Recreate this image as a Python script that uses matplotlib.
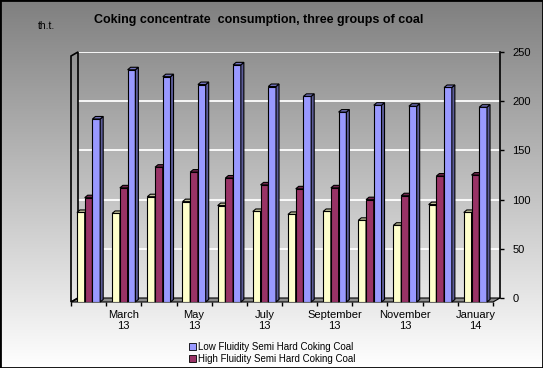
import numpy as np
import matplotlib
matplotlib.use("Agg")
import matplotlib.pyplot as plt
from matplotlib.patches import Polygon, Patch

plt.rcParams['font.family'] = ['Liberation Sans', 'DejaVu Sans']

months = ['February\n13', 'March\n13', 'April\n13', 'May\n13', 'June\n13', 'July\n13',
          'August\n13', 'September\n13', 'October\n13', 'November\n13', 'December\n13', 'January\n14']
hard = [91, 90, 107, 102, 98, 92, 89, 92, 83, 78, 99, 91]
high_fluid = [106, 116, 137, 132, 126, 119, 115, 116, 104, 108, 128, 129]
low_fluid = [186, 236, 229, 221, 241, 219, 209, 193, 200, 199, 218, 198]

W, H = 543, 368
fig = plt.figure(figsize=(W / 100, H / 100), dpi=100)

# background gradient
bg = fig.add_axes([0, 0, 1, 1], zorder=-10)
grad = np.linspace(0.5, 1.0, 256).reshape(-1, 1)
bg.imshow(np.dstack([grad, grad, grad]), aspect='auto', extent=[0, 1, 0, 1])
bg.set_axis_off()
bg.add_patch(plt.Rectangle((0, 0), 1, 1, transform=bg.transAxes, fill=False,
                           edgecolor='black', lw=2, clip_on=False))

def px_axes(left, right, y0, y250, **kw):
    return fig.add_axes([left / W, 1 - y0 / H, (right - left) / W, (y0 - y250) / H], **kw)

n = len(months)
x = np.arange(n)
px_x = 422 / n          # pixels per group
px_y = 246 / 250        # pixels per unit

# back wall: gridlines and value axis
axb = px_axes(78, 500, 298, 52, zorder=1)
axb.patch.set_alpha(0)
axb.set_xlim(-0.5, n - 0.5)
axb.set_ylim(0, 250)
axb.set_yticks(range(0, 251, 50))
for v in range(50, 251, 50):
    axb.axhline(v, color='white', lw=1.3)
axb.set_xticks([])
for s in ['top', 'left', 'bottom']:
    axb.spines[s].set_visible(False)
axb.spines['right'].set_linewidth(1.2)
axb.yaxis.tick_right()
axb.tick_params(axis='y', direction='out', length=3, width=1, labelsize=8, pad=6)

# front plane: bars, floor, category axis
ax = px_axes(71, 493, 302, 56, zorder=2)
ax.patch.set_alpha(0)
ax.set_xlim(-0.5, n - 0.5)
ax.set_ylim(0, 250)

dx_wall, dy_wall = 7 / px_x, 4 / px_y
floor = Polygon([(-0.5, 0), (n - 0.5, 0), (n - 0.5 + dx_wall, dy_wall), (-0.5 + dx_wall, dy_wall)],
                closed=True, facecolor='#8a8a8a', edgecolor='black', lw=0.8, clip_on=False, zorder=1)
ax.add_patch(floor)
wall = Polygon([(-0.5, 0), (-0.5, 250), (-0.5 + dx_wall, 250 + dy_wall), (-0.5 + dx_wall, dy_wall)],
               closed=True, facecolor='none', edgecolor='black', lw=1.2, clip_on=False, zorder=1)
ax.add_patch(wall)

series = [(hard, '#FFFFCC'), (high_fluid, '#993366'), (low_fluid, '#9999FF')]
bw = 0.22
ddx, ddy = 3 / px_x, 2.5 / px_y

def shade(c, f):
    r, g, b = matplotlib.colors.to_rgb(c)
    return (r * f, g * f, b * f)

for j, (vals, col) in enumerate(series):
    xs = x + (j - 1) * bw
    ax.bar(xs, vals, bw, color=col, edgecolor='black', lw=0.8, zorder=3 + j)
    for xc, v in zip(xs, vals):
        xl, xr = xc - bw / 2, xc + bw / 2
        side = Polygon([(xr, 0), (xr, v), (xr + ddx, v + ddy), (xr + ddx, ddy)],
                       closed=True, facecolor=shade(col, 0.6), edgecolor='black', lw=0.8,
                       zorder=3 + j, clip_on=False)
        top = Polygon([(xl, v), (xr, v), (xr + ddx, v + ddy), (xl + ddx, v + ddy)],
                      closed=True, facecolor=shade(col, 0.75), edgecolor='black', lw=0.8,
                      zorder=3 + j, clip_on=False)
        ax.add_patch(side)
        ax.add_patch(top)

for s in ['top', 'left', 'right']:
    ax.spines[s].set_visible(False)
ax.spines['bottom'].set_visible(False)
ax.set_yticks([])
ax.set_xticks(np.arange(-0.5, n, 1), minor=True)
ax.set_xticks(x[1::2])
ax.set_xticklabels(months[1::2], fontsize=8, linespacing=1.1)
ax.tick_params(axis='x', which='major', length=0, pad=6)
ax.tick_params(axis='x', which='minor', direction='out', length=3, width=1)

fig.text(259 / W, 1 - 20 / H, 'Coking concentrate  consumption, three groups of coal',
         ha='center', va='center', fontsize=9, fontweight='bold')
fig.text(38 / W, 1 - 26 / H, 'th.t.', ha='left', va='center', fontsize=7.5)

handles = [Patch(facecolor='#9999FF', edgecolor='black', lw=0.6),
           Patch(facecolor='#993366', edgecolor='black', lw=0.6)]
fig.legend(handles, ['Low Fluidity Semi Hard Coking Coal', 'High Fluidity Semi Hard Coking Coal'],
           loc='center', bbox_to_anchor=(272 / W, 1 - 353 / H), frameon=False, fontsize=7,
           handlelength=0.7, handleheight=0.7, handletextpad=0.2, labelspacing=0.15,
           borderpad=0, borderaxespad=0)

fig.savefig('out.png', dpi=100)
